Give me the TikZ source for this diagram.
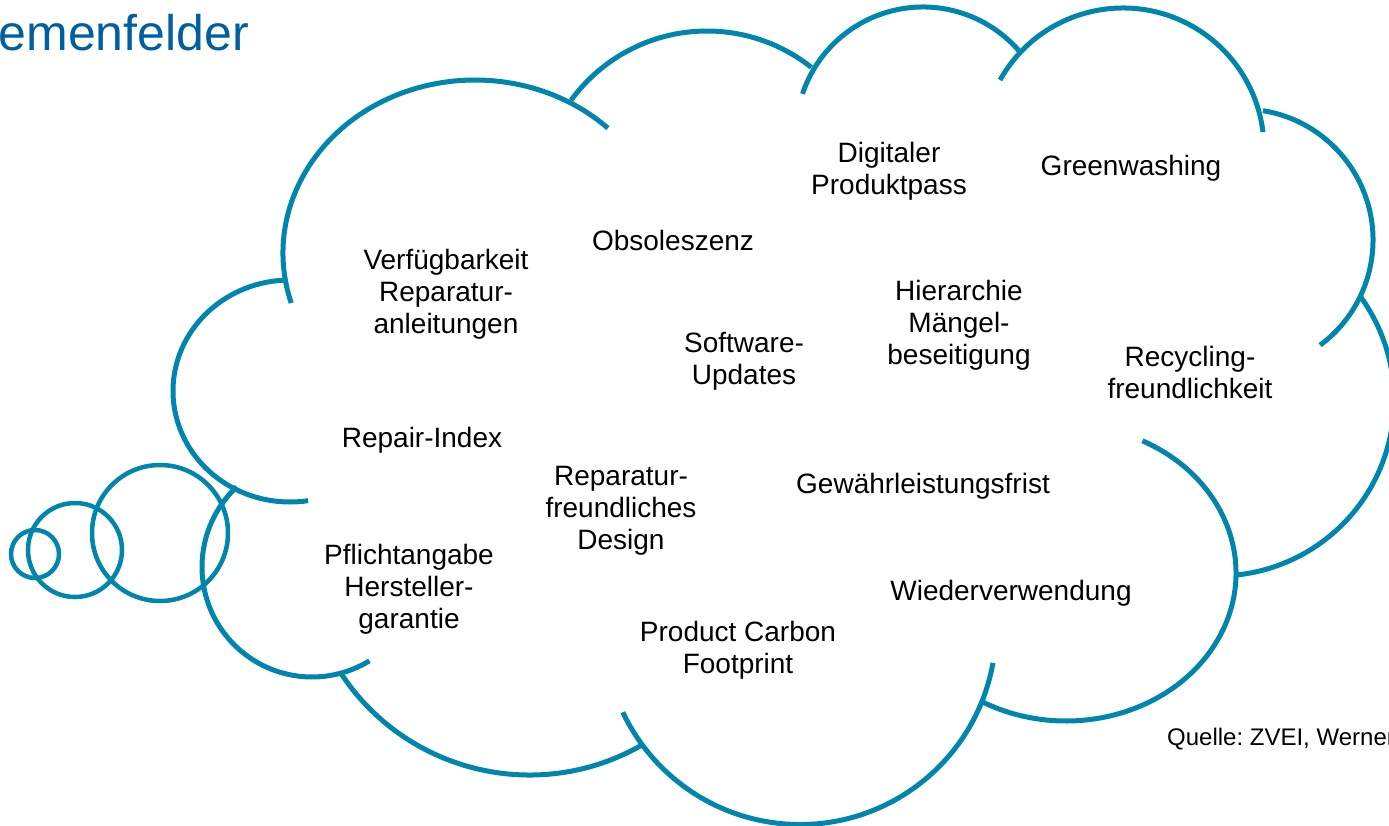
\documentclass[tikz,border=0pt]{standalone}
\usepackage{fontspec}
\setmainfont{Liberation Sans}
\definecolor{cloudblue}{RGB}{0,133,172}
\definecolor{titleblue}{RGB}{0,94,161}

\begin{document}
\begin{tikzpicture}[x=1pt, y=-1pt,
  lobe/.style={draw=cloudblue, line width=5pt},
  bubble/.style={draw=cloudblue, line width=4.5pt},
  topic/.style={font=\fontsize{28}{32}\selectfont, align=center, inner sep=0pt}
]
  \clip (0,0) rectangle (1389,825);

  % Title (cut off at the left edge)
  \node[anchor=base east, font=\fontsize{50}{56}\selectfont, text=titleblue, inner sep=0pt] (title) at (249,50) {emenfelder};

  % Cloud lobes, clockwise from the upper left
  \draw[lobe] (475,253) ++(-196.8:192 and 173) arc[start angle=-196.8, end angle=-46.2, x radius=192, y radius=173];
  \draw[lobe] (707,199) ++(-144:168 and 168) arc[start angle=-144, end angle=-51.6, x radius=168, y radius=168];
  \draw[lobe] (923,134) ++(-161.6:127 and 127) arc[start angle=-161.6, end angle=-40.2, x radius=127, y radius=127];
  \draw[lobe] (1123,149) ++(-150.7:141 and 141) arc[start angle=-150.7, end angle=-6.9, x radius=141, y radius=141];
  \draw[lobe] (1242,240) ++(-80.8:131 and 131) arc[start angle=-80.8, end angle=53.4, x radius=131, y radius=131];
  \draw[lobe] (1218,400) ++(-36:176 and 176) arc[start angle=-36, end angle=84.1, x radius=176, y radius=176];
  \draw[lobe] (1066,573) ++(-63.3:170 and 148) arc[start angle=-63.3, end angle=119, x radius=170, y radius=148];
  \draw[lobe] (800,628.5) ++(10.1:196 and 196) arc[start angle=10.1, end angle=154.7, x radius=196, y radius=196];
  \draw[lobe] (529.5,549.3) ++(-212.9:225.7 and 225.7) arc[start angle=-212.9, end angle=-299.9, x radius=225.7, y radius=225.7];
  \draw[lobe] (312,567) ++(-133.2:110 and 110) arc[start angle=-133.2, end angle=-301.5, x radius=110, y radius=110];
  \draw[lobe] (290,391) ++(-92.5:117 and 111) arc[start angle=-92.5, end angle=-278.9, x radius=117, y radius=111];

  % Thought bubbles
  \draw[bubble] (160,533) circle[radius=68];
  \draw[bubble] (75,550) circle[radius=47];
  \draw[bubble] (35,554) circle[radius=24];

  % Topics
  \node[topic] (dpp)     at (889,171)  {Digitaler\\Produktpass};
  \node[topic] (green)   at (1131,168) {Greenwashing};
  \node[topic] (obs)     at (673,240)  {Obsoleszenz};
  \node[topic] (verf)    at (446,294)  {Verfügbarkeit\\Reparatur-\\anleitungen};
  \node[topic] (hier)    at (959,325)  {Hierarchie\\Mängel-\\beseitigung};
  \node[topic] (soft)    at (744,361)  {Software-\\Updates};
  \node[topic] (recyc)   at (1190,372) {Recycling-\\freundlichkeit};
  \node[topic] (rindex)  at (422,440)  {Repair-Index};
  \node[topic] (rdesign) at (621,511)  {Reparatur-\\freundliches\\Design};
  \node[topic] (gewf)    at (923,486)  {Gewährleistungsfrist};
  \node[topic] (pflicht) at (409,589)  {Pflichtangabe\\Hersteller-\\garantie};
  \node[topic] (wieder)  at (1011,593) {Wiederverwendung};
  \node[topic] (pcf)     at (738,650)  {Product Carbon\\Footprint};

  % Source
  \node[anchor=west, font=\fontsize{24}{28}\selectfont, inner sep=0pt] (quelle) at (1167,739) {\frenchspacing Quelle: ZVEI, Werner};
\end{tikzpicture}
\end{document}
